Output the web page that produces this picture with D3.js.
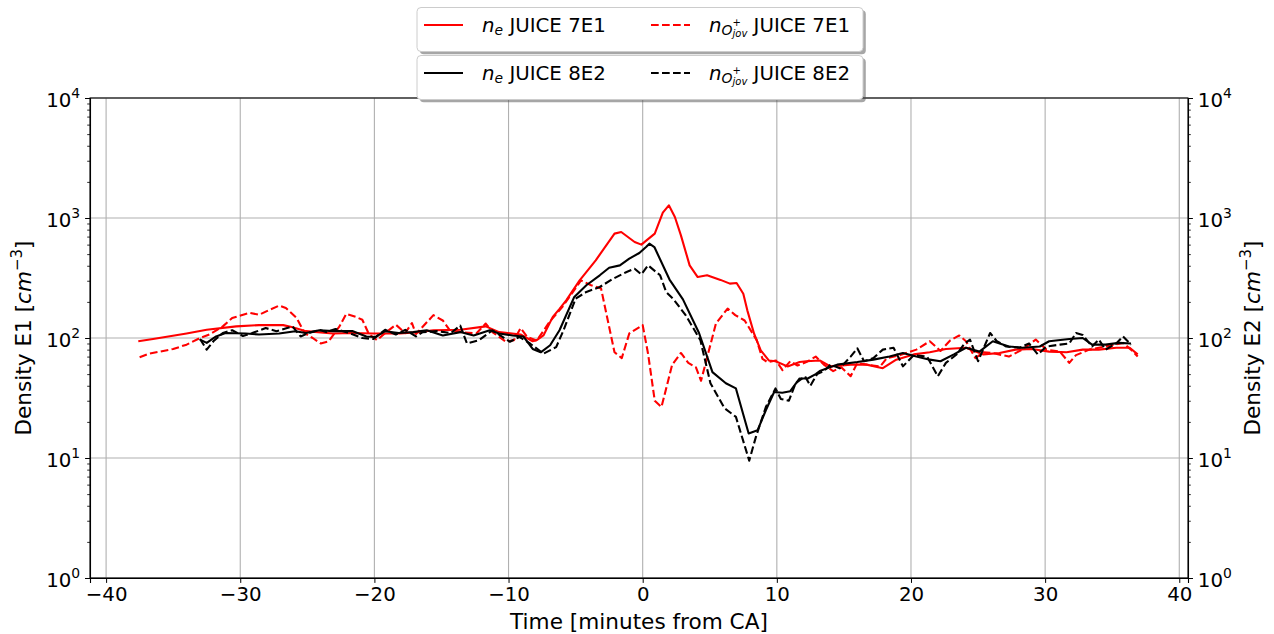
<!DOCTYPE html>
<html>
<head>
<meta charset="utf-8">
<script src="https://cdn.jsdelivr.net/npm/d3@7"></script>
<style>
  body { margin: 0; background: #fff; }
  svg { display: block; font-family: "DejaVu Sans", sans-serif; }
</style>
</head>
<body>
<svg id="chart" width="1274" height="634"></svg>
<script>
// ---- data: [minutes from CA, density cm^-3] ----
const ne7E1 = [
  [-37.6, 94], [-36.5, 98], [-34.0, 109], [-32.5, 117], [-30.3, 125], [-28.6, 128], [-26.8, 128],
  [-26.1, 123], [-25.1, 114], [-23.1, 109], [-21.6, 110], [-20.1, 109], [-18.1, 109], [-16.7, 112],
  [-15.6, 116], [-13.6, 117], [-11.7, 125], [-10.7, 112], [-9.1, 107], [-8.2, 94], [-7.9, 96],
  [-7.4, 105], [-6.7, 150], [-6.2, 175], [-5.7, 206], [-4.7, 302], [-3.5, 444], [-2.1, 741],
  [-1.6, 764], [-0.6, 631], [-0.1, 600], [0.9, 741], [1.5, 1107], [1.95, 1275], [2.4, 1020],
  [2.85, 717], [3.5, 403], [4.1, 322], [4.8, 333], [5.8, 305], [6.5, 284], [7.0, 287], [7.5, 234],
  [7.8, 170], [8.3, 109], [8.8, 79], [9.4, 65], [9.9, 64], [10.8, 58], [11.7, 63], [12.2, 64],
  [13.2, 65], [14.0, 58], [15.5, 60], [16.7, 60], [17.9, 56], [18.9, 66], [20.2, 73], [21.4, 76],
  [22.6, 81], [24.1, 83], [25.4, 73], [26.6, 75], [27.8, 80], [29.0, 81], [30.3, 77], [31.6, 76],
  [32.8, 80], [34.0, 80], [35.3, 83], [36.3, 83], [36.9, 73]
];

const nO7E1 = [
  [-37.5, 69], [-36.8, 74], [-36.0, 77], [-35.0, 81], [-34.0, 88], [-33.0, 100], [-32.3, 107],
  [-31.3, 125], [-30.6, 147], [-29.3, 162], [-28.6, 156], [-27.8, 172], [-27.1, 186], [-26.6, 178],
  [-25.8, 147], [-25.2, 110], [-24.6, 100], [-24.0, 90], [-23.4, 94], [-22.6, 125], [-22.1, 159],
  [-21.4, 150], [-20.9, 142], [-20.4, 107], [-19.8, 96], [-19.2, 110], [-18.4, 129], [-17.7, 110],
  [-17.2, 133], [-16.9, 108], [-15.6, 155], [-14.9, 140], [-14.4, 117], [-13.6, 112], [-12.4, 109],
  [-11.7, 132], [-11.2, 112], [-10.2, 93], [-9.6, 96], [-9.1, 121], [-8.6, 102], [-7.9, 95],
  [-6.95, 136], [-6.0, 181], [-5.0, 260], [-4.6, 302], [-3.85, 275], [-3.1, 258], [-2.1, 76],
  [-1.56, 68], [-1.0, 109], [0.0, 128], [0.4, 74], [0.9, 30], [1.4, 26.6], [2.2, 60], [2.85, 75],
  [3.4, 62], [3.97, 57], [4.35, 44], [5.46, 132], [6.33, 176], [6.9, 155], [7.6, 140], [8.5, 96],
  [8.93, 67], [9.3, 63], [9.93, 65], [10.42, 54], [11.0, 64], [11.54, 59], [12.2, 63], [12.9, 70],
  [13.5, 60], [14.2, 53], [14.8, 57], [15.5, 48], [16.0, 62], [16.7, 60], [17.7, 58], [18.2, 68],
  [19.2, 72], [20.4, 80], [21.4, 94], [22.2, 78], [22.9, 95], [23.6, 105], [24.1, 94], [24.8, 68],
  [25.4, 76], [26.1, 75], [27.3, 70], [28.3, 80], [29.3, 97], [30.1, 80], [31.1, 77], [31.8, 62],
  [32.3, 72], [33.3, 80], [34.5, 85], [35.8, 91], [36.4, 80], [36.9, 70]
];

const ne8E2 = [
  [-33.0, 97], [-32.5, 91], [-31.8, 103], [-31.1, 110], [-29.6, 109], [-28.6, 107], [-27.1, 109],
  [-25.9, 114], [-25.1, 110], [-24.1, 116], [-23.1, 114], [-21.6, 114], [-20.6, 103], [-19.9, 102],
  [-19.2, 114], [-18.2, 110], [-17.1, 112], [-16.1, 116], [-14.9, 105], [-13.6, 112], [-12.6, 105],
  [-11.4, 116], [-10.7, 109], [-9.7, 105], [-8.9, 103], [-8.2, 81], [-7.6, 76], [-6.9, 87],
  [-6.2, 116], [-5.1, 220], [-4.2, 275], [-3.2, 333], [-2.5, 385], [-1.7, 403], [-1.0, 458],
  [-0.25, 511], [0.25, 573], [0.5, 611], [0.87, 573], [2.0, 307], [3.0, 210], [4.2, 110],
  [5.2, 52], [6.2, 42], [6.95, 38], [7.9, 16], [8.56, 17], [9.18, 25], [9.8, 35.5], [10.4, 35],
  [11.0, 36], [11.7, 46], [12.3, 46], [12.9, 50], [13.2, 53], [14.5, 60], [16.0, 63], [17.2, 66],
  [18.4, 70], [19.4, 75], [20.4, 70], [21.4, 66], [22.2, 64], [23.2, 73], [24.1, 83], [25.1, 77],
  [26.1, 94], [27.3, 85], [28.3, 83], [29.6, 85], [30.3, 94], [31.8, 98], [32.8, 100], [33.5, 88],
  [34.5, 88], [35.5, 91], [36.4, 90]
];

const nO8E2 = [
  [-33.0, 98], [-32.5, 80], [-32.0, 94], [-31.3, 110], [-30.6, 116], [-29.8, 104], [-29.1, 110],
  [-28.1, 121], [-27.3, 114], [-26.1, 125], [-25.5, 103], [-24.9, 110], [-24.1, 117], [-23.6, 112],
  [-22.9, 119], [-21.9, 110], [-20.9, 100], [-20.1, 98], [-19.2, 117], [-18.4, 107], [-17.7, 117],
  [-16.9, 103], [-16.4, 112], [-15.3, 114], [-14.3, 110], [-13.6, 127], [-13.1, 90], [-12.2, 96],
  [-11.2, 116], [-9.9, 93], [-9.2, 102], [-8.4, 90], [-7.4, 74], [-6.45, 84], [-5.9, 116],
  [-5.0, 213], [-4.2, 242], [-3.2, 266], [-2.2, 312], [-1.2, 355], [-0.6, 378], [-0.1, 339],
  [0.4, 403], [1.3, 333], [1.75, 242], [2.3, 210], [3.2, 155], [4.3, 96], [5.05, 42], [6.1, 26],
  [6.95, 22], [7.94, 9.5], [8.44, 15], [9.18, 26.6], [9.9, 38], [10.3, 31], [10.9, 30], [11.4, 42],
  [12.1, 48], [12.5, 40], [13.0, 50], [13.5, 53], [14.0, 60], [14.7, 56], [15.5, 70], [16.0, 82],
  [16.5, 64], [17.2, 68], [17.9, 80], [18.7, 83], [19.4, 58], [20.2, 72], [21.2, 70], [22.0, 48],
  [22.6, 62], [23.4, 73], [24.0, 90], [24.4, 97], [25.0, 64], [25.9, 110], [26.4, 94], [27.1, 85],
  [28.1, 83], [28.8, 90], [29.45, 73], [30.1, 85], [31.1, 88], [31.8, 90], [32.3, 110], [32.8, 106],
  [33.5, 85], [34.0, 97], [34.5, 80], [35.3, 90], [35.8, 103], [36.4, 88]
];

const xTicks = [-40, -30, -20, -10, 0, 10, 20, 30, 40];
const yDecades = [0, 1, 2, 3, 4];

// ---- layout ----
const L = 90, R = 1188, T = 98, B = 578;
const FS = 19.8;      // tick / legend font
const LFS = 21.6;     // axis label font
const DASH = '7.7,3.3';

const svg = d3.select('#chart');

const x = d3.scaleLinear().domain([-41.2, 40.65]).range([L, R]);
const y = d3.scaleLog().domain([1, 1e4]).range([B, T]);

const minorVals = [];
yDecades.slice(0, -1).forEach(d => {
  for (let k = 2; k <= 9; k++) minorVals.push(k * Math.pow(10, d));
});

// grid
const grid = svg.append('g').attr('stroke', '#b0b0b0').attr('stroke-width', 1.1);
xTicks.forEach(t => {
  grid.append('line').attr('x1', x(t)).attr('x2', x(t)).attr('y1', T).attr('y2', B);
});
yDecades.forEach(d => {
  const v = Math.pow(10, d);
  grid.append('line').attr('x1', L).attr('x2', R).attr('y1', y(v)).attr('y2', y(v));
});

// series (red on the E1 axis, black on the twin E2 axis drawn on top)
const line = d3.line().x(d => x(d[0])).y(d => y(d[1]));
const series = [
  { data: ne7E1, color: '#ff0000', dash: null },
  { data: nO7E1, color: '#ff0000', dash: DASH },
  { data: ne8E2, color: '#000000', dash: null },
  { data: nO8E2, color: '#000000', dash: DASH },
];
series.forEach(s => {
  svg.append('path')
    .datum(s.data)
    .attr('d', line)
    .attr('fill', 'none')
    .attr('stroke', s.color)
    .attr('stroke-width', 2.1)
    .attr('stroke-linejoin', 'round')
    .attr('stroke-dasharray', s.dash);
});

// axes
const minus = v => String(v).replace('-', '\u2212');

const xAxis = svg.append('g')
  .attr('transform', `translate(0,${B})`)
  .call(d3.axisBottom(x).tickValues(xTicks).tickSize(4.9).tickPadding(4.5).tickFormat(minus));
xAxis.selectAll('text').attr('font-size', FS).attr('font-family', 'DejaVu Sans').attr('fill', '#000');

function decadeLabels(g, anchor) {
  g.selectAll('.tick text').each(function (v) {
    const t = d3.select(this);
    t.text(null)
      .attr('font-size', FS)
      .attr('font-family', 'DejaVu Sans')
      .attr('fill', '#000')
      .attr('text-anchor', anchor)
      .attr('dy', null)
      .attr('y', 8.5);
    t.append('tspan').text('10');
    t.append('tspan').attr('font-size', 13.9).attr('dy', -9)
      .text(Math.round(Math.log10(v)));
  });
}

function yAxisPair(axisFn, xpos, anchor) {
  const g = svg.append('g').attr('transform', `translate(${xpos},0)`);
  g.call(axisFn(y).tickValues(minorVals).tickSize(2.8).tickFormat(''))
    .selectAll('line').attr('stroke-width', 0.83);
  g.select('.domain').remove();
  const gm = svg.append('g').attr('transform', `translate(${xpos},0)`);
  gm.call(axisFn(y).tickValues(yDecades.map(d => Math.pow(10, d))).tickSize(4.9).tickPadding(4.9));
  decadeLabels(gm, anchor);
  return gm;
}
yAxisPair(d3.axisLeft, L, 'end');
yAxisPair(d3.axisRight, R, 'start');

svg.selectAll('.domain').attr('stroke', '#000').attr('stroke-width', 1.1);
svg.selectAll('.tick line').attr('stroke', '#000');

// frame (top + right spine)
svg.append('rect')
  .attr('x', L).attr('y', T).attr('width', R - L).attr('height', B - T)
  .attr('fill', 'none').attr('stroke', '#000').attr('stroke-width', 1.1);

// axis labels
svg.append('text')
  .attr('x', (L + R) / 2).attr('y', 629)
  .attr('text-anchor', 'middle').attr('font-size', LFS)
  .text('Time [minutes from CA]');

function densityLabel(tx, name) {
  const t = svg.append('text')
    .attr('transform', `translate(${tx},${(T + B) / 2}) rotate(-90)`)
    .attr('text-anchor', 'middle').attr('font-size', LFS);
  t.append('tspan').text(`Density ${name} [`);
  t.append('tspan').attr('font-style', 'italic').text('cm');
  t.append('tspan').attr('font-size', 15).attr('dy', -9).text('\u22123');
  t.append('tspan').attr('dy', 9).text(']');
}
densityLabel(31, 'E1');
densityLabel(1260, 'E2');

// ---- legend (two boxes, two columns each) ----
function richText(g, x0, y0, parts) {
  let cx = x0, lastW = 0;
  parts.forEach(p => {
    const px = p.under ? cx - lastW : cx;
    const t = g.append('text')
      .attr('x', px).attr('y', y0 + (p.dy || 0))
      .attr('font-size', p.size || FS)
      .attr('font-style', p.italic ? 'italic' : 'normal')
      .attr('xml:space', 'preserve')
      .text(p.t);
    const w = t.node().getComputedTextLength();
    if (p.under) cx = Math.max(cx, px + w);
    else { cx = px + w; lastW = w; }
  });
}

const neLabel = run => [
  { t: 'n', italic: true },
  { t: 'e', italic: true, size: 13.9, dy: 3.3 },
  { t: ' JUICE ' + run },
];
const nOLabel = run => [
  { t: 'n', italic: true },
  { t: 'O', italic: true, size: 13.9, dy: 2.6 },
  { t: '+', size: 10, dy: -5.7 },
  { t: 'jov', italic: true, size: 10, dy: 5.3, under: true },
  { t: ' JUICE ' + run },
];

const legendRows = [
  { top: 7.5, color: '#ff0000', run: '7E1' },
  { top: 55.5, color: '#000000', run: '8E2' },
];

legendRows.forEach(r => {
  const g = svg.append('g');
  const bx = 417, bw = 446, bh = 44;
  g.append('rect')
    .attr('x', bx + 2.8).attr('y', r.top + 2.8).attr('width', bw).attr('height', bh).attr('rx', 4)
    .attr('fill', '#4d4d4d').attr('opacity', 0.5);
  g.append('rect')
    .attr('x', bx).attr('y', r.top).attr('width', bw).attr('height', bh).attr('rx', 4)
    .attr('fill', '#fff')
    .attr('stroke', '#cccccc').attr('stroke-width', 1);
  const ly = r.top + 17.5, ty = r.top + 24.4;
  g.append('line').attr('x1', 424).attr('x2', 463).attr('y1', ly).attr('y2', ly)
    .attr('stroke', r.color).attr('stroke-width', 2.1);
  richText(g, 482, ty, neLabel(r.run));
  g.append('line').attr('x1', 651).attr('x2', 690).attr('y1', ly).attr('y2', ly)
    .attr('stroke', r.color).attr('stroke-width', 2.1).attr('stroke-dasharray', DASH);
  richText(g, 709, ty, nOLabel(r.run));
});
</script>
</body>
</html>
